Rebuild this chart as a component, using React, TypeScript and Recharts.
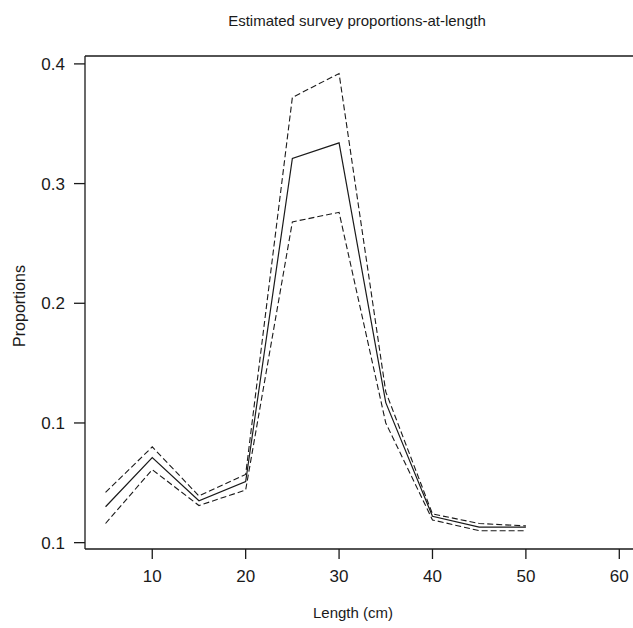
import { LineChart, Line, XAxis, YAxis, ReferenceLine } from 'recharts'

const lengths = [5, 10, 15, 20, 25, 30, 35, 40, 45, 50]
const estimate = [0.03, 0.071, 0.035, 0.051, 0.321, 0.334, 0.117, 0.022, 0.013, 0.013]
const upper = [0.042, 0.08, 0.039, 0.057, 0.372, 0.392, 0.126, 0.024, 0.016, 0.014]
const lower = [0.016, 0.061, 0.031, 0.044, 0.268, 0.276, 0.1, 0.019, 0.01, 0.01]

const xTicks = [10, 20, 30, 40, 50, 60]
const yTicks = [0, 0.1, 0.2, 0.3, 0.4]
const yTickLabels = ['0.1', '0.1', '0.2', '0.3', '0.4']

const X_MIN = 2.8
const X_MAX = 65
const Y_MIN = -0.0053
const Y_MAX = 0.4066

const FONT = '"Liberation Sans", Arial, sans-serif'
const INK = '#1a1a1a'

const data = lengths.map((len, i) => ({
  len,
  estimate: estimate[i],
  upper: upper[i],
  lower: lower[i],
}))

export default function App() {
  return (
    <div
      style={{
        position: 'absolute',
        left: 0,
        top: 0,
        width: 633,
        height: 628,
        overflow: 'hidden',
        background: '#fff',
        fontFamily: FONT,
      }}
    >
      <LineChart
        width={666}
        height={628}
        data={data}
        margin={{ top: 56, right: 0, bottom: 39, left: 0 }}
      >
        <XAxis
          dataKey="len"
          type="number"
          domain={[X_MIN, X_MAX]}
          ticks={xTicks}
          allowDataOverflow
          height={40}
          tickSize={10}
          tickMargin={11}
          stroke={INK}
          strokeWidth={1.3}
          tick={{ fill: INK, fontSize: 17, fontFamily: FONT }}
        />
        <YAxis
          type="number"
          domain={[Y_MIN, Y_MAX]}
          ticks={yTicks}
          allowDataOverflow
          width={85}
          tickSize={11}
          tickMargin={9}
          stroke={INK}
          strokeWidth={1.3}
          tickFormatter={(v) => yTickLabels[yTicks.indexOf(v)] ?? ''}
          tick={{ fill: INK, fontSize: 17, fontFamily: FONT }}
        />
        <ReferenceLine y={Y_MAX} stroke={INK} strokeWidth={1.3} />
        <Line
          type="linear"
          dataKey="upper"
          stroke={INK}
          strokeWidth={1.1}
          strokeDasharray="6 3"
          dot={false}
          isAnimationActive={false}
        />
        <Line
          type="linear"
          dataKey="lower"
          stroke={INK}
          strokeWidth={1.1}
          strokeDasharray="6 3"
          dot={false}
          isAnimationActive={false}
        />
        <Line
          type="linear"
          dataKey="estimate"
          stroke={INK}
          strokeWidth={1.2}
          dot={false}
          isAnimationActive={false}
        />
      </LineChart>
      <svg
        width={633}
        height={628}
        style={{ position: 'absolute', left: 0, top: 0, pointerEvents: 'none' }}
      >
        <text x={357} y={26} textAnchor="middle" fontSize={15} fill={INK} fontFamily={FONT}>
          Estimated survey proportions-at-length
        </text>
        <text x={353} y={618} textAnchor="middle" fontSize={15} fill={INK} fontFamily={FONT}>
          Length (cm)
        </text>
        <text
          x={0}
          y={0}
          transform="translate(25 306) rotate(-90)"
          textAnchor="middle"
          fontSize={16}
          fill={INK}
          fontFamily={FONT}
        >
          Proportions
        </text>
      </svg>
    </div>
  )
}
